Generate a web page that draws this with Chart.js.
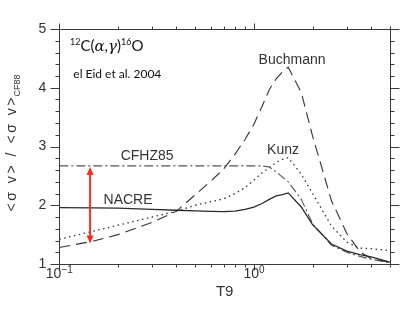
<!DOCTYPE html>
<html><head><meta charset="utf-8">
<script src="https://cdn.jsdelivr.net/npm/chart.js@4.4.0/dist/chart.umd.min.js"></script>
<style>html,body{margin:0;padding:0;background:#fff;}#wrap{width:407px;height:315px;}</style>
</head><body><div id="wrap"><canvas id="c" width="407" height="315"></canvas></div>
<script>
// ---- data ----
const T9       = [0.1, 0.15, 0.2, 0.3, 0.4, 0.5, 0.6, 0.7, 0.8, 0.9, 1.0, 1.1, 1.2, 1.3, 1.4, 1.5, 1.75, 2, 2.5, 3, 3.5, 4, 5];
const NACRE    = [1.96, 1.955, 1.95, 1.93, 1.915, 1.905, 1.895, 1.89, 1.90, 1.93, 1.97, 2.03, 2.10, 2.16, 2.18, 2.21, 1.97, 1.67, 1.34, 1.22, 1.16, 1.12, 1.03];
const CFHZ85   = [2.67, 2.67, 2.67, 2.67, 2.67, 2.67, 2.67, 2.67, 2.67, 2.67, 2.67, 2.67, 2.65, 2.57, 2.48, 2.40, 2.10, 1.69, 1.32, 1.20, 1.13, 1.08, 1.02];
const KUNZ     = [1.42, 1.56, 1.66, 1.80, 1.90, 2.00, 2.06, 2.11, 2.20, 2.30, 2.43, 2.55, 2.64, 2.73, 2.78, 2.81, 2.53, 2.20, 1.65, 1.37, 1.27, 1.26, 1.23];
const BUCHMANN = [1.28, 1.39, 1.50, 1.71, 1.90, 2.18, 2.41, 2.62, 2.87, 3.12, 3.38, 3.68, 3.97, 4.15, 4.27, 4.35, 3.92, 3.18, 2.08, 1.52, 1.21, 1.09, 1.03];

const X_MIN = 0.1, X_MAX = 5;
const Y_MIN = 1, Y_MAX = 5;
const X_MAJOR = [0.1, 1];
const X_MINOR = [0.2, 0.3, 0.4, 0.5, 0.6, 0.7, 0.8, 0.9, 2, 3, 4, 5];
const X_TICK_LABELS = [['10', '\u22121'], ['10', '0']];
const Y_TICK_STEP = 1, Y_MINOR_STEP = 0.2;

const CURVE_LABELS = [
  {text: 'Buchmann', x: 1.57, y: 4.47},
  {text: 'Kunz',     x: 1.41, y: 2.94},
  {text: 'CFHZ85',   x: 0.2825, y: 2.84},
  {text: 'NACRE',    x: 0.2255, y: 2.09}
];
const ARROW = {t9: 0.144, from: 1.35, to: 2.65};

// ---- helpers ----
function pts(ys){ return T9.map((t,i)=>({x:t, y:ys[i]})); }
function crisp(v){ return Math.round(v) + 0.5; }

function drawRuns(ctx, runs, x, y, align){
  let w = 0;
  runs.forEach(r => { ctx.font = r.font || (r.size + 'px "Liberation Sans", Arial, sans-serif'); w += ctx.measureText(r.t).width; });
  let cx = align === 'center' ? x - w/2 : (align === 'right' ? x - w : x);
  ctx.textAlign = 'left';
  ctx.textBaseline = 'alphabetic';
  runs.forEach(r => {
    ctx.font = r.font || (r.size + 'px "Liberation Sans", Arial, sans-serif');
    ctx.fillText(r.t, cx, y + (r.dy||0));
    cx += ctx.measureText(r.t).width;
  });
}

const decor = {
  id: 'decor',
  afterDraw(chart){
    const {ctx, chartArea: a, scales: {x, y}} = chart;
    ctx.save();
    ctx.strokeStyle = '#3a3a3a';
    ctx.lineWidth = 1;
    const L = crisp(a.left), R = crisp(a.right), T = crisp(a.top), B = crisp(a.bottom);
    ctx.beginPath();
    ctx.rect(L, T, R - L, B - T);
    ctx.stroke();

    const nY = Math.round((Y_MAX - Y_MIN) / Y_MINOR_STEP);
    ctx.beginPath();
    for (let i = 0; i <= nY; i++) {
      const v = Y_MIN + i * Y_MINOR_STEP;
      const py = crisp(y.getPixelForValue(v));
      const major = (i % Math.round(Y_TICK_STEP / Y_MINOR_STEP)) === 0;
      const len = major ? 9 : 4;
      ctx.moveTo(L - len, py); ctx.lineTo(L, py);
      ctx.moveTo(R, py); ctx.lineTo(R + len, py);
    }
    const xt = X_MAJOR.map(v => [v, 6]).concat(X_MINOR.map(v => [v, 3]));
    xt.forEach(([v, len]) => {
      const px = crisp(x.getPixelForValue(v));
      ctx.moveTo(px, B); ctx.lineTo(px, B + len);
      ctx.moveTo(px, T); ctx.lineTo(px, T - len);
    });
    ctx.stroke();

    ctx.fillStyle = '#333';
    X_MAJOR.forEach((v, i) => {
      const px = x.getPixelForValue(v);
      drawRuns(ctx, [{t: X_TICK_LABELS[i][0], size: 14}, {t: X_TICK_LABELS[i][1], size: 10, dy: -5}], px, 278, 'center');
    });

    ctx.font = '15px "Liberation Sans", Arial, sans-serif';
    ctx.textAlign = 'center'; ctx.textBaseline = 'middle';
    ctx.fillText('T9', (a.left + a.right) / 2, 292);

    // y title (rotated)
    ctx.save();
    ctx.translate(15.5, 143);
    ctx.rotate(-Math.PI / 2);
    const mainTxt = '<\u03C3 v> / <\u03C3 v>';
    const chars = Array.from(mainTxt);
    ctx.font = '14px "Liberation Sans", Arial, sans-serif';
    let sumW = 0;
    chars.forEach(ch => sumW += ctx.measureText(ch).width);
    const target = 114;
    const ls = (target - sumW) / (chars.length - 1);
    ctx.font = '9px "Liberation Sans", Arial, sans-serif';
    const sw = ctx.measureText('CF88').width;
    const total = target + 1 + sw;
    let cx = -total / 2;
    ctx.textAlign = 'left'; ctx.textBaseline = 'alphabetic';
    ctx.font = '14px "Liberation Sans", Arial, sans-serif';
    chars.forEach((ch, i) => {
      ctx.fillText(ch, cx, 0);
      cx += ctx.measureText(ch).width + (i < chars.length - 1 ? ls : 0);
    });
    ctx.font = '9px "Liberation Sans", Arial, sans-serif';
    ctx.fillText('CF88', cx + 1, 4);
    ctx.restore();

    ctx.fillStyle = '#333';
    ctx.font = '14px "Liberation Sans", Arial, sans-serif';
    ctx.textAlign = 'center'; ctx.textBaseline = 'middle';
    CURVE_LABELS.forEach(l => ctx.fillText(l.text, x.getPixelForValue(l.x), y.getPixelForValue(l.y)));

    ctx.fillStyle = '#111';
    const tx = x.getPixelForValue(0.1135);
    const fam = '"Lato", "Open Sans", sans-serif';
    drawRuns(ctx, [
      {t: '12', font: '9px ' + fam, dy: -6},
      {t: 'C(', font: '15px ' + fam},
      {t: '\u03B1', font: 'italic 15px "DejaVu Serif", serif'},
      {t: ',', font: '15px ' + fam},
      {t: '\u03B3', font: 'italic 15px "DejaVu Serif", serif'},
      {t: ')', font: '15px ' + fam},
      {t: '16', font: '9px ' + fam, dy: -6},
      {t: 'O', font: '15px ' + fam}
    ], tx, 51, 'left');
    drawRuns(ctx, [{t: 'el Eid et al. 2004', font: '12px ' + fam}], x.getPixelForValue(0.118), 78, 'left');

    const ax = x.getPixelForValue(ARROW.t9);
    const y0 = y.getPixelForValue(ARROW.from), y1 = y.getPixelForValue(ARROW.to);
    ctx.strokeStyle = '#ff2a1f'; ctx.fillStyle = '#ff2a1f'; ctx.lineWidth = 2;
    ctx.beginPath(); ctx.moveTo(ax, y0 - 6); ctx.lineTo(ax, y1 + 6); ctx.stroke();
    ctx.beginPath(); ctx.moveTo(ax, y1); ctx.lineTo(ax - 3.5, y1 + 8); ctx.lineTo(ax + 3.5, y1 + 8); ctx.closePath(); ctx.fill();
    ctx.beginPath(); ctx.moveTo(ax, y0); ctx.lineTo(ax - 3.5, y0 - 8); ctx.lineTo(ax + 3.5, y0 - 8); ctx.closePath(); ctx.fill();
    ctx.restore();
  }
};

const common = {fill: false, pointRadius: 0, tension: 0, borderCapStyle: 'butt'};
new Chart(document.getElementById('c'), {
  type: 'line',
  data: {
    datasets: [
      Object.assign({label: 'NACRE', data: pts(NACRE), borderColor: '#2a2a2a', borderWidth: 1.3}, common),
      Object.assign({label: 'CFHZ85', data: pts(CFHZ85), borderColor: '#555', borderWidth: 1.1, borderDash: [9, 3, 2, 3]}, common),
      Object.assign({label: 'Kunz', data: pts(KUNZ), borderColor: '#333', borderWidth: 1.3, borderDash: [1.5, 3.5]}, common),
      Object.assign({label: 'Buchmann', data: pts(BUCHMANN), borderColor: '#333', borderWidth: 1.1, borderDash: [11, 6]}, common)
    ]
  },
  options: {
    responsive: false, animation: false, devicePixelRatio: 1,
    layout: {padding: {left: 0, right: 17, top: 29, bottom: 0}},
    plugins: {legend: {display: false}, tooltip: {enabled: false}},
    scales: {
      x: {
        type: 'logarithmic', min: X_MIN, max: X_MAX,
        grid: {display: false, drawTicks: false}, border: {display: false},
        ticks: {display: false},
        afterFit(s){ s.height = 51; }
      },
      y: {
        min: Y_MIN, max: Y_MAX,
        grid: {display: false, drawTicks: false}, border: {display: false},
        ticks: {stepSize: Y_TICK_STEP, padding: 13, color: '#333', font: {size: 14, family: '"Liberation Sans", Arial, sans-serif'}},
        afterFit(s){ s.width = 59.3; }
      }
    }
  },
  plugins: [decor]
});
</script></body></html>
